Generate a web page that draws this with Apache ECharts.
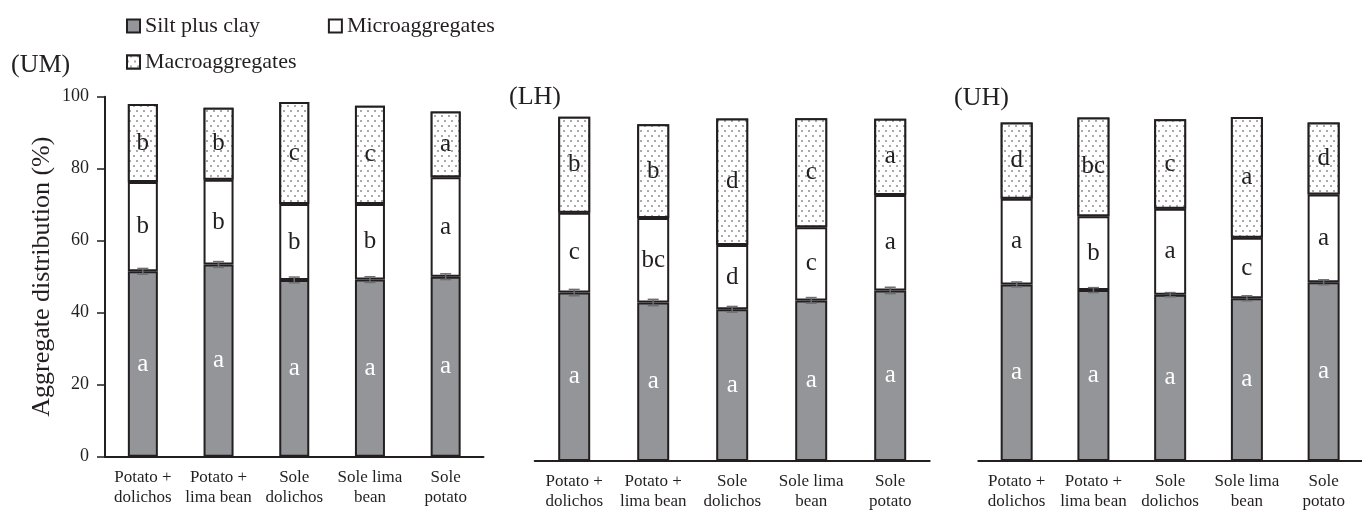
<!DOCTYPE html>
<html>
<head>
<meta charset="utf-8">
<script src="https://cdn.jsdelivr.net/npm/echarts@6/dist/echarts.min.js"></script>
<style>
  html, body { margin: 0; padding: 0; background: #fff; }
  #chart { width: 1362px; height: 512px; }
</style>
</head>
<body>
<div id="chart"></div>
<script>
// Treatments (x categories), shared by the three sites
const categories = ['Potato +\ndolichos', 'Potato +\nlima bean', 'Sole\ndolichos', 'Sole lima\nbean', 'Sole\npotato'];
const siteNames = ['(UM)', '(LH)', '(UH)'];
const fractionNames = ['Silt plus clay', 'Microaggregates', 'Macroaggregates'];
const yTicks = [0, 20, 40, 60, 80, 100];

// Aggregate fractions (%) per site
const siltUM  = [51.5, 53.4, 49.1, 49.2, 50.0];
const microUM = [24.8, 23.5, 21.1, 21.0, 27.6];
const macroUM = [21.7, 20.0, 28.3, 27.3, 18.3];
const errUM   = [0.8, 0.8, 0.8, 0.8, 0.8];

const siltLH  = [47.4, 44.6, 42.7, 45.2, 48.0];
const microLH = [22.5, 23.8, 18.1, 20.6, 26.9];
const macroLH = [27.0, 26.4, 35.6, 30.7, 21.4];
const errLH   = [0.9, 0.9, 0.8, 0.8, 0.9];

const siltUH  = [49.7, 48.1, 46.8, 45.8, 50.3];
const microUH = [24.1, 20.8, 24.2, 17.0, 24.7];
const macroUH = [21.5, 27.8, 25.2, 34.0, 20.3];
const errUH   = [0.7, 0.7, 0.6, 0.7, 0.7];

// Mean separation letters
const siltLetUM  = ['a', 'a', 'a', 'a', 'a'];
const microLetUM = ['b', 'b', 'b', 'b', 'a'];
const macroLetUM = ['b', 'b', 'c', 'c', 'a'];
const siltLetLH  = ['a', 'a', 'a', 'a', 'a'];
const microLetLH = ['c', 'bc', 'd', 'c', 'a'];
const macroLetLH = ['b', 'b', 'd', 'c', 'a'];
const siltLetUH  = ['a', 'a', 'a', 'a', 'a'];
const microLetUH = ['a', 'b', 'a', 'c', 'a'];
const macroLetUH = ['d', 'bc', 'c', 'a', 'd'];

const FONT = '"Liberation Serif", "Times New Roman", serif';
const INK = '#231f20';
const GREY = '#939598';

const panels = [
  { silt: siltUM, micro: microUM, macro: macroUM, err: errUM, lets: [siltLetUM, microLetUM, macroLetUM],
    grid: { left: 105, top: 96.7, width: 378.5, height: 360 }, barWidth: 30, showY: true },
  { silt: siltLH, micro: microLH, macro: macroLH, err: errLH, lets: [siltLetLH, microLetLH, macroLetLH],
    grid: { left: 534.7, top: 105.7, width: 395, height: 360 }, barWidth: 32, showY: false },
  { silt: siltUH, micro: microUH, macro: macroUH, err: errUH, lets: [siltLetUH, microLetUH, macroLetUH],
    grid: { left: 978.3, top: 105.7, width: 395, height: 360 }, barWidth: 32, showY: false }
];

// sparse staggered dot fill for macroaggregates
const dotted = {
  symbol: 'rect',
  symbolSize: 1,
  color: '#a9a9a9',
  backgroundColor: '#ffffff',
  dashArrayX: [[1.2, 4.8], [0, 3, 1.2, 1.8]],
  dashArrayY: [1.2, 2.8],
  rotation: 0
};

const fillStyles = [
  { color: GREY, borderColor: INK, borderWidth: 2 },
  { color: '#ffffff', borderColor: INK, borderWidth: 2 },
  { color: '#ffffff', borderColor: INK, borderWidth: 2, decal: dotted }
];

const grids = [], xAxes = [], yAxes = [], series = [];

panels.forEach((p, i) => {
  grids.push(Object.assign({ containLabel: false }, p.grid));
  xAxes.push({
    type: 'category', gridIndex: i, data: categories,
    axisLine: { lineStyle: { color: INK, width: 2 } },
    axisTick: { show: false },
    axisLabel: { interval: 0, margin: 11, color: INK, fontFamily: FONT, fontSize: 17, lineHeight: 20 }
  });
  yAxes.push({
    type: 'value', gridIndex: i, min: yTicks[0], max: yTicks[yTicks.length - 1], interval: 20,
    show: p.showY,
    name: p.showY ? 'Aggregate distribution (%)' : '',
    nameLocation: 'middle', nameGap: 50,
    nameTextStyle: { color: INK, fontFamily: FONT, fontSize: 26 },
    splitLine: { show: false },
    axisLine: { show: true, lineStyle: { color: INK, width: 2 } },
    axisTick: { show: true, length: 8, lineStyle: { color: INK, width: 1.5 } },
    axisLabel: { margin: 16, color: INK, fontFamily: FONT, fontSize: 18 }
  });
  const values = [p.silt, p.micro, p.macro];
  values.forEach((vals, k) => {
    const lets = p.lets[k];
    series.push({
      type: 'bar', name: fractionNames[k], xAxisIndex: i, yAxisIndex: i,
      stack: 'site' + i, barWidth: p.barWidth, data: vals,
      itemStyle: fillStyles[k],
      emphasis: { disabled: true },
      label: {
        show: true, position: 'inside',
        formatter: (q) => lets[q.dataIndex],
        color: k === 0 ? '#ffffff' : INK,
        fontFamily: FONT, fontSize: 25
      },
      z: 2
    });
  });
  // standard errors on the silt plus clay fraction
  const errData = p.silt.map((v, j) => [j, v, p.err[j]]);
  series.push({
    type: 'custom', xAxisIndex: i, yAxisIndex: i, data: errData, z: 5,
    silent: true,
    renderItem: (params, api) => {
      const x = api.value(0), v = api.value(1), e = api.value(2);
      const hi = api.coord([x, v + e]);
      const lo = api.coord([x, v - e]);
      const hw = 5.5;
      const st = { stroke: '#6d6e71', lineWidth: 1.5 };
      return {
        type: 'group',
        children: [
          { type: 'line', shape: { x1: hi[0], y1: hi[1], x2: lo[0], y2: lo[1] }, style: st },
          { type: 'line', shape: { x1: hi[0] - hw, y1: hi[1], x2: hi[0] + hw, y2: hi[1] }, style: st },
          { type: 'line', shape: { x1: lo[0] - hw, y1: lo[1], x2: lo[0] + hw, y2: lo[1] }, style: st }
        ]
      };
    }
  });
});

const legendText = { color: INK, fontFamily: FONT, fontSize: 22 };
const option = {
  animation: false,
  backgroundColor: '#ffffff',
  title: [
    { text: siteNames[0], left: 11, top: 52, padding: 0, textStyle: { color: INK, fontFamily: FONT, fontSize: 26, fontWeight: 'normal' } },
    { text: siteNames[1], left: 509, top: 84, padding: 0, textStyle: { color: INK, fontFamily: FONT, fontSize: 26, fontWeight: 'normal' } },
    { text: siteNames[2], left: 954, top: 85, padding: 0, textStyle: { color: INK, fontFamily: FONT, fontSize: 26, fontWeight: 'normal' } }
  ],
  legend: [
    { data: [fractionNames[0], fractionNames[1]], left: 126, top: 15, padding: 0, itemGap: 68,
      itemWidth: 13, itemHeight: 13, icon: 'rect', textStyle: legendText, selectedMode: false },
    { data: [fractionNames[2]], left: 126, top: 51, padding: 0,
      itemWidth: 13, itemHeight: 13, icon: 'rect', textStyle: legendText, selectedMode: false }
  ],
  grid: grids,
  xAxis: xAxes,
  yAxis: yAxes,
  series: series
};

const chart = echarts.init(document.getElementById('chart'), null, { renderer: 'canvas' });
chart.setOption(option);
</script>
</body>
</html>
